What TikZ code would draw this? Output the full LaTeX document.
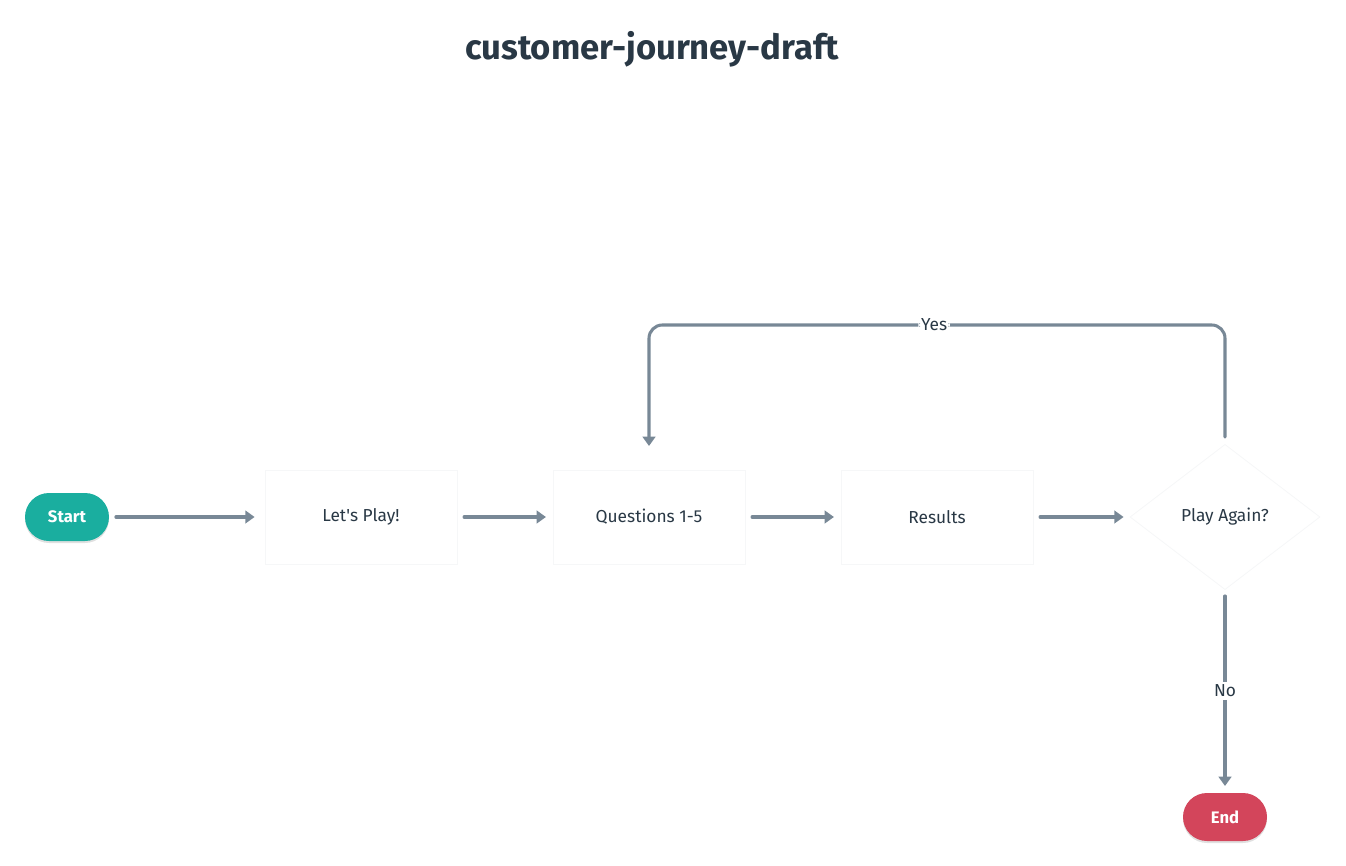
\documentclass[tikz,border=0pt]{standalone}
\usepackage{fontspec}
\setmainfont{Fira Sans}
\usetikzlibrary{shapes.geometric,arrows.meta,shadows}
\definecolor{ink}{HTML}{293845}
\definecolor{conncol}{HTML}{788896}
\definecolor{teal}{HTML}{1AAE9F}
\definecolor{redend}{HTML}{D3455B}
\definecolor{edge}{HTML}{F6F7F8}
\tikzset{
  pill/.style={rounded corners=18pt, minimum width=63pt, minimum height=36pt, inner sep=0pt,
    text=white, font=\fontsize{12.5}{15}\selectfont\bfseries,
    drop shadow={shadow xshift=0pt, shadow yshift=-1.5pt, opacity=0.12, fill=black}},
  procbox/.style={draw=edge, line width=0.6pt, fill=white, minimum width=144pt, minimum height=70.5pt,
    inner sep=0pt, text=ink, font=\fontsize{13}{15}\selectfont,
    drop shadow={shadow xshift=0pt, shadow yshift=-1pt, opacity=0.05, fill=black}},
  decbox/.style={diamond, draw=edge, line width=0.6pt, fill=white, minimum width=142.5pt, minimum height=109pt,
    inner sep=0pt, text=ink, font=\fontsize{13}{15}\selectfont},
  conn/.style={draw=conncol, line width=2.3pt, line cap=round,
    -{Triangle[length=7pt,width=9.5pt]}},
  lbl/.style={fill=white, inner sep=2pt, text=ink, font=\fontsize{13}{15}\selectfont}
}
\begin{document}
\begin{tikzpicture}[x=0.75pt,y=-0.75pt]
\useasboundingbox (0,0) rectangle (1346,866);
\node[text=ink, font=\fontsize{26}{30}\selectfont\bfseries] (title) at (652,49) {customer-journey-draft};
\node[pill, fill=teal] (start) at (67,517) {Start};
\node[procbox] (play) at (361,517) {Let\textquotesingle s Play!};
\node[procbox] (q) at (649,517) {Questions 1-5};
\node[procbox] (res) at (937,517) {Results};
\node[decbox] (dec) at (1225,517) {Play Again?};
\node[pill, fill=redend] (end) at (1225,817) {End};
\draw[conn, shorten <=5pt, shorten >=7.5pt] (start.east) -- (play.west);
\draw[conn, shorten <=5pt, shorten >=5pt] (play.east) -- (q.west);
\draw[conn, shorten <=5pt, shorten >=5pt] (q.east) -- (res.west);
\draw[conn, shorten <=5pt, shorten >=4.5pt] (res.east) -- (dec.west);
\coordinate (ya) at (1225,437);
\coordinate (yb) at (1225,325);
\coordinate (yc) at (649,325);
\coordinate (yd) at (649,446);
\draw[conn, rounded corners=10pt] (ya) -- (yb) -- node[lbl, pos=0.505]{Yes} (yc) -- (yd);
\coordinate (na) at (1225,596);
\coordinate (nb) at (1225,786);
\draw[conn] (na) -- node[lbl, pos=0.5]{No} (nb);
\end{tikzpicture}
\end{document}
